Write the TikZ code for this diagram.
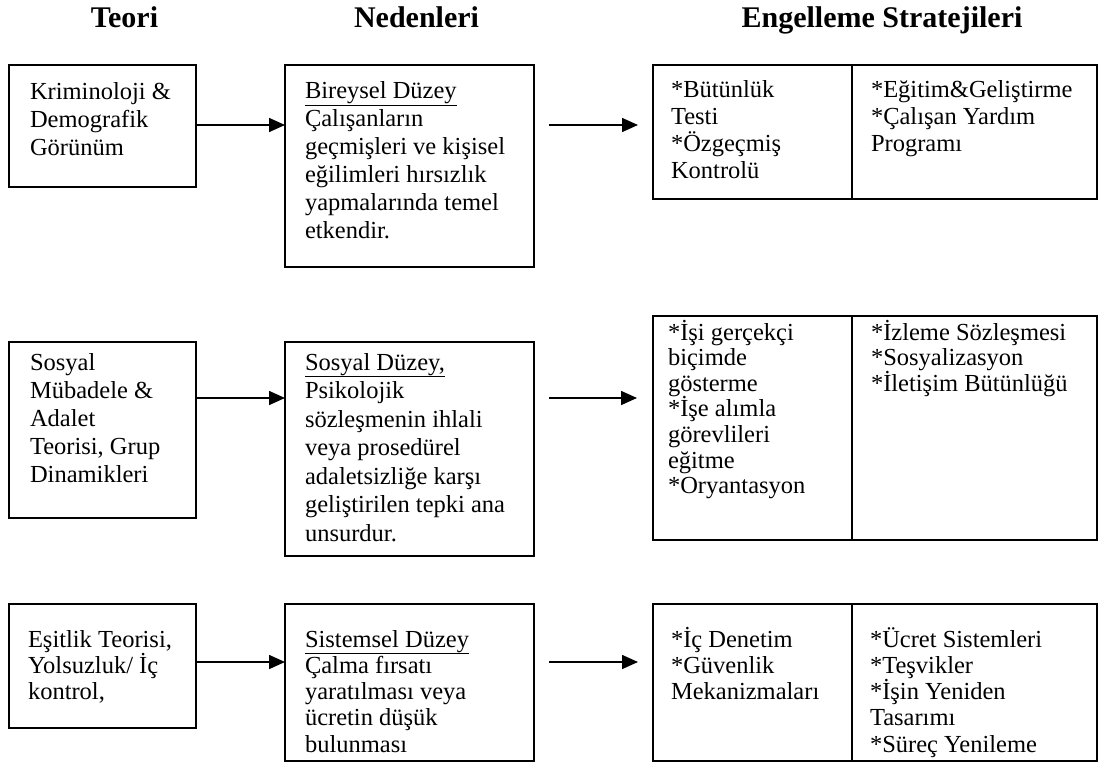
\documentclass[tikz,border=0pt]{standalone}
\usepackage{fontspec}
\setmainfont{Liberation Serif}
\usetikzlibrary{arrows.meta,calc}
\newcommand{\blocktext}[2][27.8bp]{\parbox[t]{320bp}{\fontsize{24.5bp}{#1}\selectfont\raggedright #2}}
\begin{document}
\begin{tikzpicture}[x=1bp,y=-1bp,
  box/.style={draw, line width=1.4bp, anchor=north west, inner sep=0pt, outer sep=0pt},
  txt/.style={anchor=base west, inner sep=0pt, outer sep=0pt},
  head/.style={anchor=base, inner sep=0pt, font=\fontsize{30bp}{34bp}\selectfont\bfseries},
  arr/.style={line width=1.6bp, -{Triangle[length=16bp,width=14bp]}}]
\useasboundingbox (0,0) rectangle (1098,762);

% row 1
\node[box, minimum width=187bp, minimum height=122bp] (A1) at (9,65) {};
\node[box, minimum width=249bp, minimum height=202bp] (B1) at (285,65) {};
\node[box, minimum width=199bp, minimum height=134bp] (C1a) at (653,65) {};
\node[box, minimum width=245bp, minimum height=134bp] (C1b) at (852,65) {};
\node[txt] (tA1) at (30,100) {\blocktext{Kriminoloji \&\\Demografik\\Görünüm}};
\node[txt] (tB1) at (305,99) {\blocktext{\underline{Bireysel Düzey}\\Çalışanların\\geçmişleri ve kişisel\\eğilimleri hırsızlık\\yapmalarında temel\\etkendir.}};
\node[txt] (tC1a) at (671,98) {\blocktext[26.7bp]{*Bütünlük\\Testi\\{}*Özgeçmiş\\Kontrolü}};
\node[txt] (tC1b) at (871,98) {\blocktext[26.7bp]{*Eğitim\&Geliştirme\\{}*Çalışan Yardım\\Programı}};
\coordinate (r1) at (0,125);
\draw[arr] (A1.east |- r1) -- (B1.west |- r1);
\draw[arr] ([xshift=15bp]B1.east |- r1) -- ([xshift=-15bp]C1a.west |- r1);

% headers
\coordinate (hy) at (0,28);
\coordinate (c1mid) at ($(C1a.north west)!0.5!(C1b.north east)$);
\node[head, xshift=22bp] (h1) at (A1.north |- hy) {Teori};
\node[head, xshift=7bp] (h2) at (B1.north |- hy) {Nedenleri};
\node[head, xshift=7bp] (h3) at (c1mid |- hy) {Engelleme Stratejileri};

% row 2
\node[box, minimum width=187bp, minimum height=176bp] (A2) at (9,342) {};
\node[box, minimum width=249bp, minimum height=214bp] (B2) at (285,342) {};
\node[box, minimum width=199bp, minimum height=224bp] (C2a) at (653,316) {};
\node[box, minimum width=245bp, minimum height=224bp] (C2b) at (852,316) {};
\node[txt] (tA2) at (30,370) {\blocktext[28bp]{Sosyal\\Mübadele \&\\Adalet\\Teorisi, Grup\\Dinamikleri}};
\node[txt] (tB2) at (305,370) {\blocktext[28.5bp]{\underline{Sosyal Düzey,}\\Psikolojik\\sözleşmenin ihlali\\veya prosedürel\\adaletsizliğe karşı\\geliştirilen tepki ana\\unsurdur.}};
\node[txt] (tC2a) at (668,340) {\blocktext[25.6bp]{*İşi gerçekçi\\biçimde\\gösterme\\{}*İşe alımla\\görevlileri\\eğitme\\{}*Oryantasyon}};
\node[txt] (tC2b) at (871,340) {\blocktext[25.6bp]{*İzleme Sözleşmesi\\{}*Sosyalizasyon\\{}*İletişim Bütünlüğü}};
\coordinate (r2) at (0,398);
\draw[arr] (A2.east |- r2) -- (B2.west |- r2);
\draw[arr] ([xshift=15bp]B2.east |- r2) -- ([xshift=-16bp]C2a.west |- r2);

% row 3
\node[box, minimum width=187bp, minimum height=124bp] (A3) at (9,604) {};
\node[box, minimum width=249bp, minimum height=157bp] (B3) at (285,604) {};
\node[box, minimum width=199bp, minimum height=157bp] (C3a) at (653,604) {};
\node[box, minimum width=245bp, minimum height=157bp] (C3b) at (852,604) {};
\node[txt] (tA3) at (28,647) {\blocktext[26.3bp]{Eşitlik Teorisi,\\Yolsuzluk/ İç\\kontrol,}};
\node[txt] (tB3) at (305,647) {\blocktext[26.3bp]{\underline{Sistemsel Düzey}\\Çalma fırsatı\\yaratılması veya\\ücretin düşük\\bulunması}};
\node[txt] (tC3a) at (671,647) {\blocktext[26.3bp]{*İç Denetim\\{}*Güvenlik\\Mekanizmaları}};
\node[txt] (tC3b) at (870,647) {\blocktext[26.3bp]{*Ücret Sistemleri\\{}*Teşvikler\\{}*İşin Yeniden\\Tasarımı\\{}*Süreç Yenileme}};
\coordinate (r3) at (0,662);
\draw[arr] (A3.east |- r3) -- (B3.west |- r3);
\draw[arr] ([xshift=15bp]B3.east |- r3) -- ([xshift=-15bp]C3a.west |- r3);
\end{tikzpicture}
\end{document}
